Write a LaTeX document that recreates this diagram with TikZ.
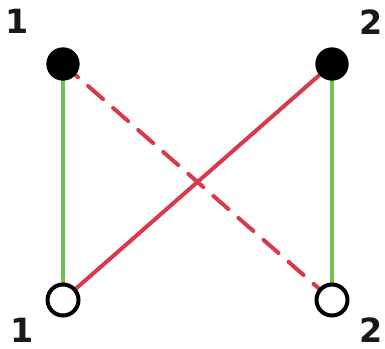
\documentclass[tikz,border=0pt]{standalone}
\usepackage{fontspec}
\setmainfont{DejaVu Sans}
\begin{document}
\begin{tikzpicture}[x=0.75pt,y=-0.75pt,
  filled/.style={circle,fill=black,draw=black,line width=1pt,minimum size=32*0.75pt,inner sep=0pt},
  hollow/.style={circle,fill=white,draw=black,line width=3pt,minimum size=31*0.75pt,inner sep=0pt},
  lbl/.style={font=\bfseries\fontsize{25}{25}\selectfont,inner sep=0pt,text=black!90},
  gline/.style={draw={rgb,255:red,115;green,192;blue,79},line width=3pt},
  rline/.style={draw={rgb,255:red,217;green,58;blue,75},line width=3pt},
  rdash/.style={rline,line cap=round,dash pattern=on 15pt off 10pt}]
\useasboundingbox (0,0) rectangle (385,349);
\coordinate (tl) at (63,64);
\coordinate (tr) at (332,64);
\coordinate (bl) at (63,300);
\coordinate (br) at (332,300);
\draw[gline] (tl) -- (bl);
\draw[gline] (tr) -- (br);
\draw[rline] (bl) -- (tr);
\draw[rdash] (tl) -- (br);
\node[filled] (a) at (tl) {};
\node[filled] (b) at (tr) {};
\node[hollow] (c) at (bl) {};
\node[hollow] (d) at (br) {};
\node[lbl] (la) at (17,21) {1};
\node[lbl] (lb) at (371,22) {2};
\node[lbl] (lc) at (22,330) {1};
\node[lbl] (ld) at (371,330) {2};
\end{tikzpicture}
\end{document}
